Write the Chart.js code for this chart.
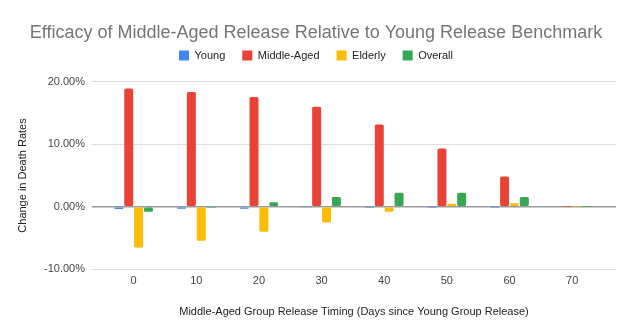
<!DOCTYPE html>
<html>
<head>
<meta charset="utf-8">
<script src="https://cdn.jsdelivr.net/npm/chart.js@4/dist/chart.umd.min.js"></script>
<style>
  html, body { margin: 0; padding: 0; background: #fff; }
  #wrap { width: 632px; height: 333px; }
</style>
</head>
<body>
<div id="wrap"><canvas id="chart" width="632" height="333"></canvas></div>
<script>
// days since young group release
const days = [0, 10, 20, 30, 40, 50, 60, 70];

// change in death rates, in percent
const young = [-0.35, -0.3, -0.3, -0.15, -0.05, -0.05, -0.05, 0];
const middleAged = [18.93, 18.35, 17.56, 16.0, 13.16, 9.33, 4.83, 0.05];
const elderly = [-6.5, -5.45, -4.0, -2.5, -0.8, 0.47, 0.58, 0.03];
const overall = [-0.8, -0.05, 0.74, 1.57, 2.26, 2.26, 1.57, 0.02];

const yTicks = [-10, 0, 10, 20];

const seriesNames = ['Young', 'Middle-Aged', 'Elderly', 'Overall'];
const seriesColors = ['#4285F4', '#EA4335', '#FBBC04', '#34A853'];
const seriesValues = [young, middleAged, elderly, overall];

Chart.defaults.font.family = "'Liberation Sans', Arial, sans-serif";
Chart.defaults.color = '#444';

const ctx = document.getElementById('chart').getContext('2d');

const datasets = seriesNames.map(function (name, i) {
  return {
    label: name,
    data: days.map((d, j) => ({ x: d, y: seriesValues[i][j] })),
    backgroundColor: seriesColors[i],
    borderRadius: 1.5,
    borderSkipped: false,
    categoryPercentage: 0.63,
    barPercentage: 0.91
  };
});

// empty axes used only as spacers
const spacer = (size, horizontal) => ({
  display: true,
  grid: { display: false, drawTicks: false },
  border: { display: false },
  ticks: { display: false },
  afterFit: function (scale) {
    if (horizontal) scale.height = size; else scale.width = size;
  }
});

new Chart(ctx, {
  type: 'bar',
  data: { datasets: datasets },
  options: {
    responsive: false,
    animation: false,
    layout: { padding: 0 },
    plugins: {
      title: {
        display: true,
        text: 'Efficacy of Middle-Aged Release Relative to Young Release Benchmark',
        color: '#757575',
        font: { size: 18, weight: 'normal' },
        padding: { top: 22, bottom: -10.6 }
      },
      legend: {
        position: 'top',
        labels: {
          boxWidth: 10,
          boxHeight: 10,
          padding: 17,
          color: '#222',
          font: { size: 11 }
        }
      },
      tooltip: { enabled: false }
    },
    scales: {
      x: {
        type: 'linear',
        min: -6.65,
        max: 77,
        offset: false,
        grid: { display: false, drawTicks: false },
        border: { display: false },
        afterBuildTicks: function (scale) {
          scale.ticks = days.map(v => ({ value: v }));
        },
        afterFit: function (scale) {
          scale.height = 63.7;
        },
        ticks: {
          padding: 5,
          color: '#444',
          font: { size: 11 },
          callback: v => String(v)
        },
        title: {
          display: true,
          text: 'Middle-Aged Group Release Timing (Days since Young Group Release)',
          color: '#222',
          font: { size: 11 },
          padding: { top: 0, bottom: 14 }
        }
      },
      xTop: Object.assign({ type: 'linear', position: 'top' }, spacer(10.7, true)),
      y: {
        min: -10,
        max: 20,
        afterBuildTicks: function (scale) {
          scale.ticks = yTicks.map(v => ({ value: v }));
        },
        afterFit: function (scale) {
          scale.width = 92;
        },
        grid: {
          drawTicks: false,
          color: c => (c.tick && c.tick.value === 0 ? '#999' : '#ddd'),
          lineWidth: c => (c.tick && c.tick.value === 0 ? 1.5 : 1)
        },
        border: { display: false },
        ticks: {
          padding: 7,
          color: '#444',
          font: { size: 11 },
          callback: v => v.toFixed(2) + '%'
        },
        title: {
          display: true,
          text: 'Change in Death Rates',
          color: '#222',
          font: { size: 11 },
          padding: { top: 16, bottom: 0 }
        }
      },
      yRight: Object.assign({ type: 'linear', position: 'right' }, spacer(16, false))
    }
  }
});
</script>
</body>
</html>
